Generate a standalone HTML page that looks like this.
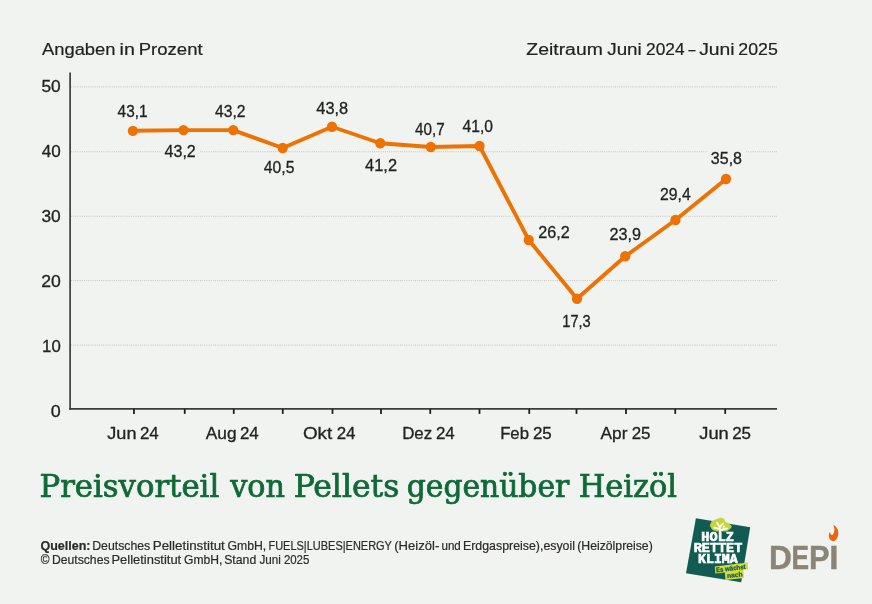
<!DOCTYPE html>
<html lang="de">
<head>
<meta charset="utf-8">
<title>Preisvorteil von Pellets gegenüber Heizöl</title>
<style>
html,body{margin:0;padding:0;background:#f1f3f0;}
body{width:872px;height:604px;overflow:hidden;font-family:"Liberation Sans", sans-serif;}
svg{display:block;}
text{white-space:pre;}
</style>
</head>
<body>
<svg width="872" height="604" viewBox="0 0 872 604">
<rect id="bg" width="872" height="604" fill="#f1f3f0"/>

<g id="grid" stroke="#c4c4c2" stroke-width="1" stroke-dasharray="1 1.15" fill="none">
<line x1="71" y1="86.9" x2="777" y2="86.9"/>
<line x1="71" y1="151.75" x2="777" y2="151.75"/>
<line x1="71" y1="216.25" x2="777" y2="216.25"/>
<line x1="71" y1="280.6" x2="777" y2="280.6"/>
<line x1="71" y1="345.1" x2="777" y2="345.1"/>
</g>
<g id="axes" stroke="#3c3c3b" stroke-width="1.7" fill="none">
<line x1="70.1" y1="72.6" x2="70.1" y2="409.75"/>
<line x1="69.25" y1="408.9" x2="777" y2="408.9"/>
</g>
<g id="ticks" stroke="#1d1d1b" stroke-width="1.8" fill="none">
<line x1="133.95" y1="409" x2="133.95" y2="413.9"/>
<line x1="184.75" y1="409" x2="184.75" y2="413.9"/>
<line x1="233.75" y1="409" x2="233.75" y2="413.9"/>
<line x1="282.75" y1="409" x2="282.75" y2="413.9"/>
<line x1="332.5" y1="409" x2="332.5" y2="413.9"/>
<line x1="381" y1="409" x2="381" y2="413.9"/>
<line x1="430.25" y1="409" x2="430.25" y2="413.9"/>
<line x1="479.5" y1="409" x2="479.5" y2="413.9"/>
<line x1="529.25" y1="409" x2="529.25" y2="413.9"/>
<line x1="576.5" y1="409" x2="576.5" y2="413.9"/>
<line x1="626" y1="409" x2="626" y2="413.9"/>
<line x1="675.25" y1="409" x2="675.25" y2="413.9"/>
<line x1="725.2" y1="409" x2="725.2" y2="413.9"/>
</g>
<text id="h1" y="55.00" font-size="17.3" fill="#222221" font-family='"Liberation Sans", sans-serif' stroke="#222221" stroke-width="0.2"><tspan id="h1_0" x="42.00" textLength="73.51" lengthAdjust="spacingAndGlyphs">Angaben</tspan> <tspan id="h1_1" x="119.57" textLength="15.36" lengthAdjust="spacingAndGlyphs">in</tspan> <tspan id="h1_2" x="138.73" textLength="63.87" lengthAdjust="spacingAndGlyphs">Prozent</tspan></text>
<text id="h2" y="55.00" font-size="17.3" fill="#222221" font-family='"Liberation Sans", sans-serif' stroke="#222221" stroke-width="0.2"><tspan id="h2_0" x="526.39" textLength="76.42" lengthAdjust="spacingAndGlyphs">Zeitraum</tspan> <tspan id="h2_1" x="607.24" textLength="34.53" lengthAdjust="spacingAndGlyphs">Juni</tspan> <tspan id="h2_2" x="646.04" textLength="38.51" lengthAdjust="spacingAndGlyphs">2024</tspan> <tspan id="h2_3" x="688.50" textLength="6.90" lengthAdjust="spacingAndGlyphs">–</tspan> <tspan id="h2_4" x="699.15" textLength="35.42" lengthAdjust="spacingAndGlyphs">Juni</tspan> <tspan id="h2_5" x="738.35" textLength="39.52" lengthAdjust="spacingAndGlyphs">2025</tspan></text>
<text id="y0" x="41.44" y="92.30" font-size="17.0" fill="#222221" font-weight="normal" font-family='"Liberation Sans", sans-serif' textLength="19.28" lengthAdjust="spacingAndGlyphs" stroke="#222221" stroke-width="0.3">50</text>
<text id="y1" x="41.74" y="157.20" font-size="17.0" fill="#222221" font-weight="normal" font-family='"Liberation Sans", sans-serif' textLength="19.01" lengthAdjust="spacingAndGlyphs" stroke="#222221" stroke-width="0.3">40</text>
<text id="y2" x="41.44" y="222.00" font-size="17.0" fill="#222221" font-weight="normal" font-family='"Liberation Sans", sans-serif' textLength="19.28" lengthAdjust="spacingAndGlyphs" stroke="#222221" stroke-width="0.3">30</text>
<text id="y3" x="41.17" y="287.00" font-size="17.0" fill="#222221" font-weight="normal" font-family='"Liberation Sans", sans-serif' textLength="19.59" lengthAdjust="spacingAndGlyphs" stroke="#222221" stroke-width="0.3">20</text>
<text id="y4" x="42.10" y="352.00" font-size="17.0" fill="#222221" font-weight="normal" font-family='"Liberation Sans", sans-serif' textLength="18.66" lengthAdjust="spacingAndGlyphs" stroke="#222221" stroke-width="0.3">10</text>
<text id="y5" x="50.85" y="417.00" font-size="17.0" fill="#222221" font-weight="normal" font-family='"Liberation Sans", sans-serif' textLength="9.96" lengthAdjust="spacingAndGlyphs" stroke="#222221" stroke-width="0.3">0</text>
<text id="x0" y="438.75" font-size="17.2" fill="#222221" font-family='"Liberation Sans", sans-serif' stroke="#222221" stroke-width="0.3"><tspan id="x0_0" x="107.24" textLength="29.27" lengthAdjust="spacingAndGlyphs">Jun</tspan> <tspan id="x0_1" x="139.94" textLength="18.83" lengthAdjust="spacingAndGlyphs">24</tspan></text>
<text id="x1" y="438.75" font-size="17.2" fill="#222221" font-family='"Liberation Sans", sans-serif' stroke="#222221" stroke-width="0.3"><tspan id="x1_0" x="205.75" textLength="30.75" lengthAdjust="spacingAndGlyphs">Aug</tspan> <tspan id="x1_1" x="239.94" textLength="18.83" lengthAdjust="spacingAndGlyphs">24</tspan></text>
<text id="x2" y="438.75" font-size="17.2" fill="#222221" font-family='"Liberation Sans", sans-serif' stroke="#222221" stroke-width="0.3"><tspan id="x2_0" x="302.96" textLength="29.24" lengthAdjust="spacingAndGlyphs">Okt</tspan> <tspan id="x2_1" x="336.69" textLength="18.83" lengthAdjust="spacingAndGlyphs">24</tspan></text>
<text id="x3" y="438.75" font-size="17.2" fill="#222221" font-family='"Liberation Sans", sans-serif' stroke="#222221" stroke-width="0.3"><tspan id="x3_0" x="402.15" textLength="30.10" lengthAdjust="spacingAndGlyphs">Dez</tspan> <tspan id="x3_1" x="435.94" textLength="18.83" lengthAdjust="spacingAndGlyphs">24</tspan></text>
<text id="x4" y="438.75" font-size="17.2" fill="#222221" font-family='"Liberation Sans", sans-serif' stroke="#222221" stroke-width="0.3"><tspan id="x4_0" x="500.16" textLength="28.80" lengthAdjust="spacingAndGlyphs">Feb</tspan> <tspan id="x4_1" x="532.94" textLength="18.85" lengthAdjust="spacingAndGlyphs">25</tspan></text>
<text id="x5" y="438.75" font-size="17.2" fill="#222221" font-family='"Liberation Sans", sans-serif' stroke="#222221" stroke-width="0.3"><tspan id="x5_0" x="600.50" textLength="26.95" lengthAdjust="spacingAndGlyphs">Apr</tspan> <tspan id="x5_1" x="631.69" textLength="18.85" lengthAdjust="spacingAndGlyphs">25</tspan></text>
<text id="x6" y="438.75" font-size="17.2" fill="#222221" font-family='"Liberation Sans", sans-serif' stroke="#222221" stroke-width="0.3"><tspan id="x6_0" x="699.24" textLength="29.52" lengthAdjust="spacingAndGlyphs">Jun</tspan> <tspan id="x6_1" x="732.19" textLength="18.85" lengthAdjust="spacingAndGlyphs">25</tspan></text>
<polyline id="line" fill="none" stroke="#ee7203" stroke-width="3.9" stroke-linejoin="round" stroke-linecap="round" points="132.9,130.8 183.5,130.1 233.25,130.1 282.7,148.0 332,126.75 380.3,143.25 430.8,147 479.55,146 528.75,240 577,298.75 625.25,256.25 675.5,220 726,179"/>
<g id="dots" fill="#ee7203">
<circle cx="132.9" cy="130.8" r="5.15"/>
<circle cx="183.5" cy="130.1" r="5.15"/>
<circle cx="233.25" cy="130.1" r="5.15"/>
<circle cx="282.7" cy="148.0" r="5.15"/>
<circle cx="332" cy="126.75" r="5.15"/>
<circle cx="380.3" cy="143.25" r="5.15"/>
<circle cx="430.8" cy="147" r="5.15"/>
<circle cx="479.55" cy="146" r="5.15"/>
<circle cx="528.75" cy="240" r="5.15"/>
<circle cx="577" cy="298.75" r="5.15"/>
<circle cx="625.25" cy="256.25" r="5.15"/>
<circle cx="675.5" cy="220" r="5.15"/>
<circle cx="726" cy="179" r="5.15"/>
</g>
<rect id="lblbg" x="161.5" y="144" width="38" height="16" fill="#f1f3f0"/>
<rect id="lblbg2" x="707.5" y="148" width="38" height="16" fill="#f1f3f0"/>
<text id="d0" x="117.60" y="117.00" font-size="17.0" fill="#222221" font-weight="normal" font-family='"Liberation Sans", sans-serif' textLength="29.90" lengthAdjust="spacingAndGlyphs" stroke="#222221" stroke-width="0.3">43,1</text>
<text id="d1" x="164.60" y="157.00" font-size="17.0" fill="#222221" font-weight="normal" font-family='"Liberation Sans", sans-serif' textLength="31.17" lengthAdjust="spacingAndGlyphs" stroke="#222221" stroke-width="0.3">43,2</text>
<text id="d2" x="215.10" y="116.60" font-size="17.0" fill="#222221" font-weight="normal" font-family='"Liberation Sans", sans-serif' textLength="30.41" lengthAdjust="spacingAndGlyphs" stroke="#222221" stroke-width="0.3">43,2</text>
<text id="d3" x="263.85" y="173.00" font-size="17.0" fill="#222221" font-weight="normal" font-family='"Liberation Sans", sans-serif' textLength="30.65" lengthAdjust="spacingAndGlyphs" stroke="#222221" stroke-width="0.3">40,5</text>
<text id="d4" x="316.35" y="113.60" font-size="17.0" fill="#222221" font-weight="normal" font-family='"Liberation Sans", sans-serif' textLength="31.90" lengthAdjust="spacingAndGlyphs" stroke="#222221" stroke-width="0.3">43,8</text>
<text id="d5" x="365.10" y="171.20" font-size="17.0" fill="#222221" font-weight="normal" font-family='"Liberation Sans", sans-serif' textLength="31.91" lengthAdjust="spacingAndGlyphs" stroke="#222221" stroke-width="0.3">41,2</text>
<text id="d6" x="415.10" y="135.30" font-size="17.0" fill="#222221" font-weight="normal" font-family='"Liberation Sans", sans-serif' textLength="29.67" lengthAdjust="spacingAndGlyphs" stroke="#222221" stroke-width="0.3">40,7</text>
<text id="d7" x="462.60" y="131.60" font-size="17.0" fill="#222221" font-weight="normal" font-family='"Liberation Sans", sans-serif' textLength="30.40" lengthAdjust="spacingAndGlyphs" stroke="#222221" stroke-width="0.3">41,0</text>
<text id="d8" x="538.34" y="238.10" font-size="17.0" fill="#222221" font-weight="normal" font-family='"Liberation Sans", sans-serif' textLength="31.46" lengthAdjust="spacingAndGlyphs" stroke="#222221" stroke-width="0.3">26,2</text>
<text id="d9" x="562.30" y="327.40" font-size="17.0" fill="#222221" font-weight="normal" font-family='"Liberation Sans", sans-serif' textLength="28.43" lengthAdjust="spacingAndGlyphs" stroke="#222221" stroke-width="0.3">17,3</text>
<text id="d10" x="609.58" y="239.90" font-size="17.0" fill="#222221" font-weight="normal" font-family='"Liberation Sans", sans-serif' textLength="31.46" lengthAdjust="spacingAndGlyphs" stroke="#222221" stroke-width="0.3">23,9</text>
<text id="d11" x="660.09" y="199.90" font-size="17.0" fill="#222221" font-weight="normal" font-family='"Liberation Sans", sans-serif' textLength="30.66" lengthAdjust="spacingAndGlyphs" stroke="#222221" stroke-width="0.3">29,4</text>
<text id="d12" x="710.84" y="163.90" font-size="17.0" fill="#222221" font-weight="normal" font-family='"Liberation Sans", sans-serif' textLength="31.17" lengthAdjust="spacingAndGlyphs" stroke="#222221" stroke-width="0.3">35,8</text>
<text id="t0" x="39.48" y="497.40" font-size="31.6" fill="#0e6a37" font-weight="normal" font-family='"DejaVu Serif", "Liberation Serif", serif' textLength="179.78" lengthAdjust="spacingAndGlyphs" font-stretch="condensed" stroke="#0e6a37" stroke-width="0.7">Preisvorteil</text>
<text id="t1" x="230.27" y="497.40" font-size="31.6" fill="#0e6a37" font-weight="normal" font-family='"DejaVu Serif", "Liberation Serif", serif' textLength="54.75" lengthAdjust="spacingAndGlyphs" font-stretch="condensed" stroke="#0e6a37" stroke-width="0.7">von</text>
<text id="t2" x="293.71" y="497.40" font-size="31.6" fill="#0e6a37" font-weight="normal" font-family='"DejaVu Serif", "Liberation Serif", serif' textLength="105.57" lengthAdjust="spacingAndGlyphs" font-stretch="condensed" stroke="#0e6a37" stroke-width="0.7">Pellets</text>
<text id="t3" x="406.74" y="497.40" font-size="31.6" fill="#0e6a37" font-weight="normal" font-family='"DejaVu Serif", "Liberation Serif", serif' textLength="162.51" lengthAdjust="spacingAndGlyphs" font-stretch="condensed" stroke="#0e6a37" stroke-width="0.7">gegenüber</text>
<text id="t4" x="578.72" y="497.40" font-size="31.6" fill="#0e6a37" font-weight="normal" font-family='"DejaVu Serif", "Liberation Serif", serif' textLength="98.29" lengthAdjust="spacingAndGlyphs" font-stretch="condensed" stroke="#0e6a37" stroke-width="0.7">Heizöl</text>
<text id="f1" y="549.80" font-size="12.2" fill="#2b2b2a" font-family='"Liberation Sans", sans-serif' stroke="#2b2b2a" stroke-width="0.2"><tspan id="f1_0" x="40.48" textLength="50.04" lengthAdjust="spacingAndGlyphs" font-weight="bold">Quellen:</tspan> <tspan id="f1_1" x="92.23" textLength="58.03" lengthAdjust="spacingAndGlyphs">Deutsches</tspan> <tspan id="f1_2" x="152.74" textLength="72.07" lengthAdjust="spacingAndGlyphs">Pelletinstitut</tspan> <tspan id="f1_3" x="227.48" textLength="38.79" lengthAdjust="spacingAndGlyphs">GmbH,</tspan> <tspan id="f1_4" x="268.44" textLength="123.31" lengthAdjust="spacingAndGlyphs">FUELS|LUBES|ENERGY</tspan> <tspan id="f1_5" x="394.23" textLength="45.04" lengthAdjust="spacingAndGlyphs">(Heizöl-</tspan> <tspan id="f1_6" x="441.46" textLength="19.33" lengthAdjust="spacingAndGlyphs">und</tspan> <tspan id="f1_7" x="462.98" textLength="112.03" lengthAdjust="spacingAndGlyphs">Erdgaspreise),esyoil</tspan> <tspan id="f1_8" x="577.23" textLength="75.54" lengthAdjust="spacingAndGlyphs">(Heizölpreise)</tspan></text>
<text id="f2" y="563.50" font-size="12.2" fill="#2b2b2a" font-family='"Liberation Sans", sans-serif' stroke="#2b2b2a" stroke-width="0.2"><tspan id="f2_0" x="40.75" textLength="8.75" lengthAdjust="spacingAndGlyphs">©</tspan> <tspan id="f2_1" x="51.99" textLength="57.53" lengthAdjust="spacingAndGlyphs">Deutsches</tspan> <tspan id="f2_2" x="111.49" textLength="69.71" lengthAdjust="spacingAndGlyphs">Pelletinstitut</tspan> <tspan id="f2_3" x="184.08" textLength="38.29" lengthAdjust="spacingAndGlyphs">GmbH,</tspan> <tspan id="f2_4" x="224.18" textLength="32.08" lengthAdjust="spacingAndGlyphs">Stand</tspan> <tspan id="f2_5" x="259.50" textLength="21.37" lengthAdjust="spacingAndGlyphs">Juni</tspan> <tspan id="f2_6" x="283.89" textLength="25.50" lengthAdjust="spacingAndGlyphs">2025</tspan></text>
<g id="holz">
<polygon points="695.9,518.2 750.2,527.2 741.2,582.2 686,573.3" fill="#115c52"/>
<path d="M710.2 525.4 L711.9 521.4 L716.4 519.5 L720.4 517.9 L723.9 519 L725.3 522.7 L728.3 523.2 L731.6 526.2 L729.8 528.9 L726.3 531.1 L716.4 531.1 L712.4 529.4 Z" fill="#c3d63f" stroke="#c3d63f" stroke-width="0.8" stroke-linejoin="round"/>
<path d="M719.9 532.2 L719.9 526.9 L722.9 523.9 M719.9 527.6 L717.1 522.7 M719.6 528.9 L714.2 527.7 M720.4 530.4 L727.1 528.4 M723.4 528.6 L723.9 526.4" stroke="#ffffff" stroke-width="1.7" fill="none" stroke-linecap="round" stroke-linejoin="round"/>
</g>
<text id="l0" x="701.39" y="540.60" font-size="12.3" fill="#ffffff" font-weight="bold" font-family='"Liberation Mono", monospace' textLength="32.52" lengthAdjust="spacingAndGlyphs" stroke="#ffffff" stroke-width="0.6">HOLZ</text>
<text id="l1" x="693.78" y="551.95" font-size="12.3" fill="#ffffff" font-weight="bold" font-family='"Liberation Mono", monospace' textLength="48.53" lengthAdjust="spacingAndGlyphs" stroke="#ffffff" stroke-width="0.6">RETTET</text>
<text id="l2" x="697.98" y="562.95" font-size="12.3" fill="#ffffff" font-weight="bold" font-family='"Liberation Mono", monospace' textLength="39.83" lengthAdjust="spacingAndGlyphs" stroke="#ffffff" stroke-width="0.6">KLIMA</text>
<g id="tag">
<polygon points="714.75,566.5 747.7,562.45 748.1,569.3 743.3,569.9 744,577.9 725.4,579.9 724.9,572.4 715.3,573.6" fill="#d3da3c"/>
<g transform="rotate(-6.9 731 571)">
<text x="716.3" y="570.6" font-size="6.6" stroke="#115c52" stroke-width="0.25" font-weight="bold" fill="#115c52" font-family='"Liberation Sans", sans-serif' textLength="29.6" lengthAdjust="spacingAndGlyphs">Es wächst</text>
<text x="726.4" y="577.6" font-size="6.6" stroke="#115c52" stroke-width="0.25" font-weight="bold" fill="#115c52" font-family='"Liberation Sans", sans-serif' textLength="15.6" lengthAdjust="spacingAndGlyphs">nach</text>
</g>
</g>
<text id="dp" y="569.00" font-size="32.9" fill="#8b8477" font-family='"Liberation Sans", sans-serif' font-weight="bold" stroke="#8b8477" stroke-width="0.4"><tspan id="dp_0" x="768.99" textLength="22.91" lengthAdjust="spacingAndGlyphs">D</tspan><tspan id="dp_1" x="791.54" textLength="17.59" lengthAdjust="spacingAndGlyphs">E</tspan><tspan id="dp_2" x="809.02" textLength="20.63" lengthAdjust="spacingAndGlyphs">P</tspan><tspan id="dp_3" x="829.37" textLength="9.26" lengthAdjust="spacingAndGlyphs">I</tspan></text>
<path id="flame" d="M833.2 524.7 C836.6 526.5 838.5 529.6 838.3 533.1 C838.1 537.6 836 541 833.3 541.3 C830.5 541 828.6 538.1 828.8 535 C828.9 533.6 829.2 532.7 829.8 532 C830.2 533.7 830.9 534.8 831.9 534.9 C833.4 534.9 834.3 532.5 834.4 529.5 C834.4 527.6 834 526 833.2 524.7 Z" fill="#ea650d"/>
</svg>
</body>
</html>
